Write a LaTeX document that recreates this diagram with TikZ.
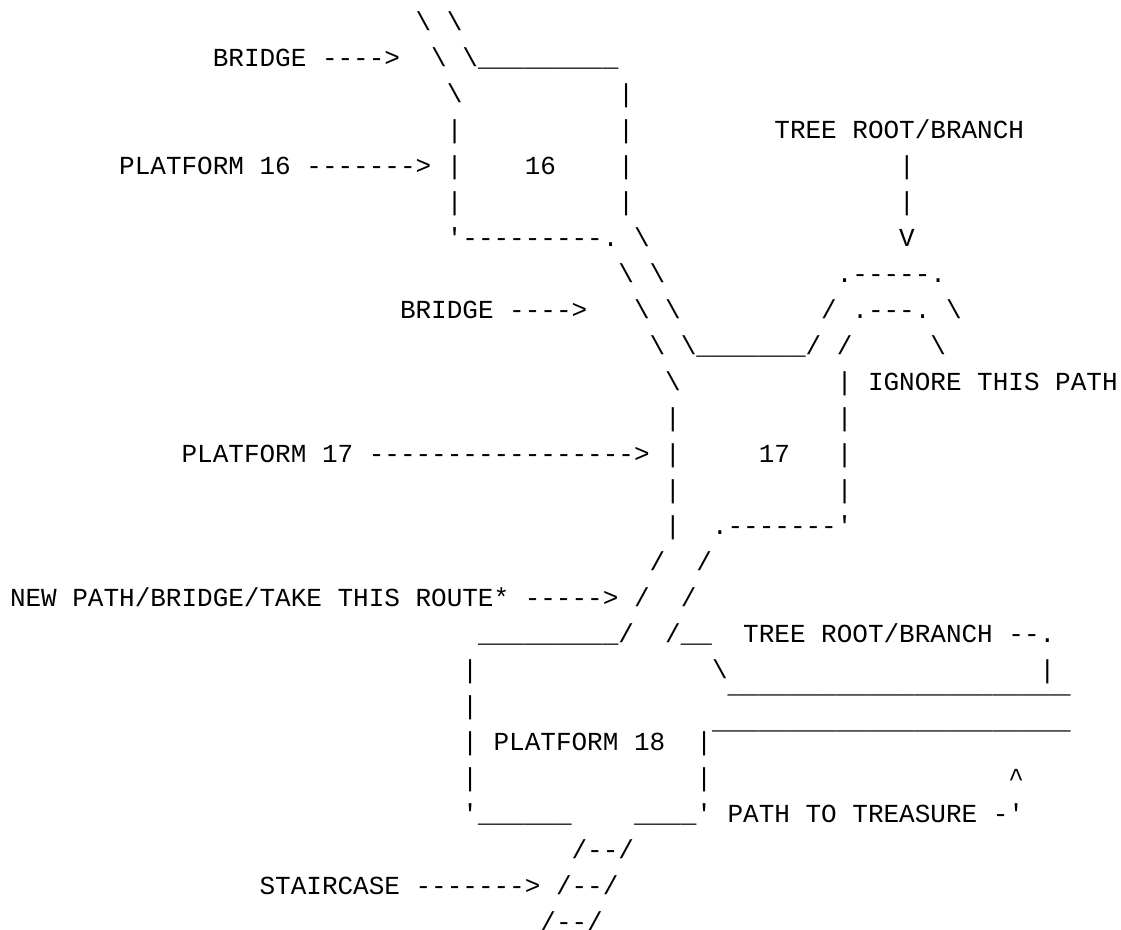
\documentclass[tikz,border=0pt]{standalone}
\usepackage{fontspec}
\setmonofont{Liberation Mono}
\usepackage{tikz}

\newcommand{\bs}{\textbackslash}
\tikzset{
  art/.style={anchor=base west, inner sep=0pt, outer sep=0pt,
    font=\ttfamily\fontsize{19.5pt}{19.5pt}\selectfont}
}

\begin{document}
\begin{tikzpicture}[x=11.7pt, y=-27pt]
\useasboundingbox (-7.5pt,-4.5pt) rectangle (833.25pt,-701.25pt);

% Platform 16 and the upper bridge
\node[art] (r1a) at (26,1) {\bs~\bs};
\node[art] (brA) at (13,2) {BRIDGE ---->};
\node[art] (r2a) at (27,2) {\bs~\bs\_\_\_\_\_\_\_\_\_};
\node[art] (r3a) at (28,3) {\bs};
\node[art] (r3b) at (39,3) {|};
\node[art] (r4a) at (28,4) {|};
\node[art] (r4b) at (39,4) {|};
\node[art] (trA) at (49,4) {TREE ROOT/BRANCH};
\node[art] (pf16) at (7,5) {PLATFORM 16 ------->};
\node[art] (r5a) at (28,5) {|};
\node[art] (n16) at (33,5) {16};
\node[art] (r5b) at (39,5) {|};
\node[art] (r5c) at (57,5) {|};
\node[art] (r6a) at (28,6) {|};
\node[art] (r6b) at (39,6) {|};
\node[art] (r6c) at (57,6) {|};
\node[art] (r7a) at (28,7) {'---------.};
\node[art] (r7b) at (40,7) {\bs};
\node[art] (r7c) at (57,7) {V};

% Middle bridge and the tree
\node[art] (r8a) at (39,8) {\bs~\bs};
\node[art] (r8b) at (53,8) {.-----.};
\node[art] (brB) at (25,9) {BRIDGE ---->};
\node[art] (r9a) at (40,9) {\bs~\bs};
\node[art] (r9b) at (52,9) {/ .---. \bs};
\node[art] (r10a) at (41,10) {\bs~\bs\_\_\_\_\_\_\_/ /};
\node[art] (r10b) at (59,10) {\bs};
\node[art] (r11a) at (42,11) {\bs};
\node[art] (ign) at (53,11) {| IGNORE THIS PATH};

% Platform 17
\node[art] (r12a) at (42,12) {|};
\node[art] (r12b) at (53,12) {|};
\node[art] (pf17) at (11,13) {PLATFORM 17 ----------------->};
\node[art] (r13a) at (42,13) {|};
\node[art] (n17) at (48,13) {17};
\node[art] (r13b) at (53,13) {|};
\node[art] (r14a) at (42,14) {|};
\node[art] (r14b) at (53,14) {|};
\node[art] (r15a) at (42,15) {|};
\node[art] (r15b) at (45,15) {.-------'};

% New path down to platform 18
\node[art] (r16a) at (41,16) {/};
\node[art] (r16b) at (44,16) {/};
\node[art] (np) at (0,17) {NEW PATH/BRIDGE/TAKE THIS ROUTE* ----->};
\node[art] (r17a) at (40,17) {/};
\node[art] (r17b) at (43,17) {/};
\node[art] (r18a) at (30,18) {\_\_\_\_\_\_\_\_\_/};
\node[art] (r18b) at (42,18) {/\_\_};
\node[art] (trB) at (47,18) {TREE ROOT/BRANCH --.};
\node[art] (r19a) at (29,19) {|};
\node[art] (r19b) at (45,19) {\bs};
\node[art] (r19c) at (66,19) {|};
\node[art] (r20a) at (29,20) {|};
\node[art] (r20b) at (46,20) {‾‾‾‾‾‾‾‾‾‾‾‾‾‾‾‾‾‾‾‾‾‾};
\node[art] (pf18) at (29,21) {| PLATFORM 18};
\node[art] (r21b) at (44,21) {|‾‾‾‾‾‾‾‾‾‾‾‾‾‾‾‾‾‾‾‾‾‾‾};
\node[art] (r22a) at (29,22) {|};
\node[art] (r22b) at (44,22) {|};
\node[art] (r22c) at (64,22) {\textasciicircum};
\node[art] (r23a) at (29,23) {'\_\_\_\_\_\_};
\node[art] (tre) at (40,23) {\_\_\_\_' PATH TO TREASURE -'};

% Staircase
\node[art] (st1) at (36,24) {/--/};
\node[art] (stl) at (16,25) {STAIRCASE ------->};
\node[art] (st2) at (35,25) {/--/};
\node[art] (st3) at (34,26) {/--/};
\end{tikzpicture}
\end{document}
